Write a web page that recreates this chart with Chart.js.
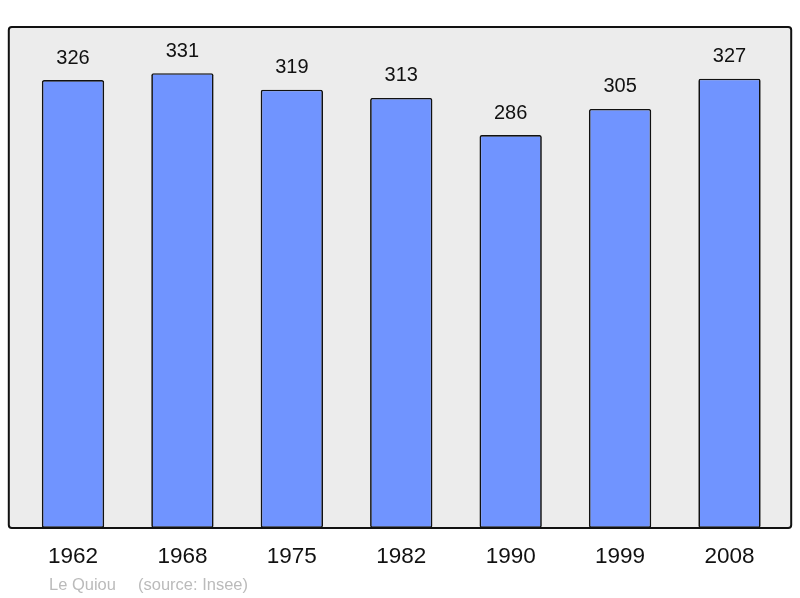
<!DOCTYPE html>
<html><head><meta charset="utf-8">
<script src="https://cdn.jsdelivr.net/npm/chart.js@4"></script>
<style>html,body{margin:0;padding:0;background:#fff}#c{display:block}</style>
</head><body>
<canvas id="c" width="800" height="598"></canvas>
<script>
const years = ['1962','1968','1975','1982','1990','1999','2008'];
const population = [326,331,319,313,286,305,327];
const footerPlace = 'Le Quiou';
const footerSource = '(source: Insee)';

const boxPlugin = {
  id: 'box',
  beforeDraw(chart) {
    const {ctx, chartArea: a} = chart;
    const x0 = a.left - 9.5, x1 = a.right + 7, y0 = a.top, y1 = a.bottom;
    ctx.save();
    ctx.beginPath();
    ctx.roundRect(x0, y0, x1 - x0, y1 - y0, 3);
    ctx.fillStyle = '#ececec';
    ctx.fill();
    ctx.restore();
  },
  afterDatasetsDraw(chart) {
    const {ctx, chartArea: a} = chart;
    const x0 = a.left - 9.5, x1 = a.right + 7, y0 = a.top, y1 = a.bottom;
    ctx.save();
    ctx.beginPath();
    ctx.roundRect(x0, y0, x1 - x0, y1 - y0, 3);
    ctx.lineWidth = 2;
    ctx.strokeStyle = '#111';
    ctx.stroke();
    // value labels
    ctx.fillStyle = '#111';
    ctx.font = '20px "Liberation Sans", Arial, sans-serif';
    ctx.textAlign = 'center';
    ctx.textBaseline = 'middle';
    const meta = chart.getDatasetMeta(0);
    meta.data.forEach((bar, i) => {
      ctx.fillText(String(chart.data.datasets[0].data[i]), bar.x, bar.y - 22);
    });
    // footer
    ctx.fillStyle = '#bbbbbb';
    ctx.font = '16.5px "Liberation Sans", Arial, sans-serif';
    ctx.textAlign = 'left';
    ctx.fillText(footerPlace, 49, 585);
    ctx.fillText(footerSource, 138, 585);
    ctx.restore();
  }
};

new Chart(document.getElementById('c'), {
  type: 'bar',
  data: {
    labels: years,
    datasets: [{
      data: population,
      backgroundColor: '#7094ff',
      borderColor: '#111',
      borderWidth: 1.7,
      borderRadius: 2,
      borderSkipped: false,
      barPercentage: 0.57,
      categoryPercentage: 1
    }]
  },
  options: {
    responsive: false,
    animation: false,
    layout: {padding: {left: 18.3, right: 15.8, top: 27, bottom: 0}},
    plugins: {legend: {display: false}, tooltip: {enabled: false}},
    scales: {
      y: {display: false, min: 0, max: 364.6},
      x: {
        grid: {display: false, drawTicks: false},
        border: {display: false},
        ticks: {color: '#111', font: {size: 22.5, family: '"Liberation Sans", Arial, sans-serif'}, padding: 15, maxRotation: 0},
        afterFit(scale) { scale.height = 70; }
      }
    }
  },
  plugins: [boxPlugin]
});
</script>
</body></html>
